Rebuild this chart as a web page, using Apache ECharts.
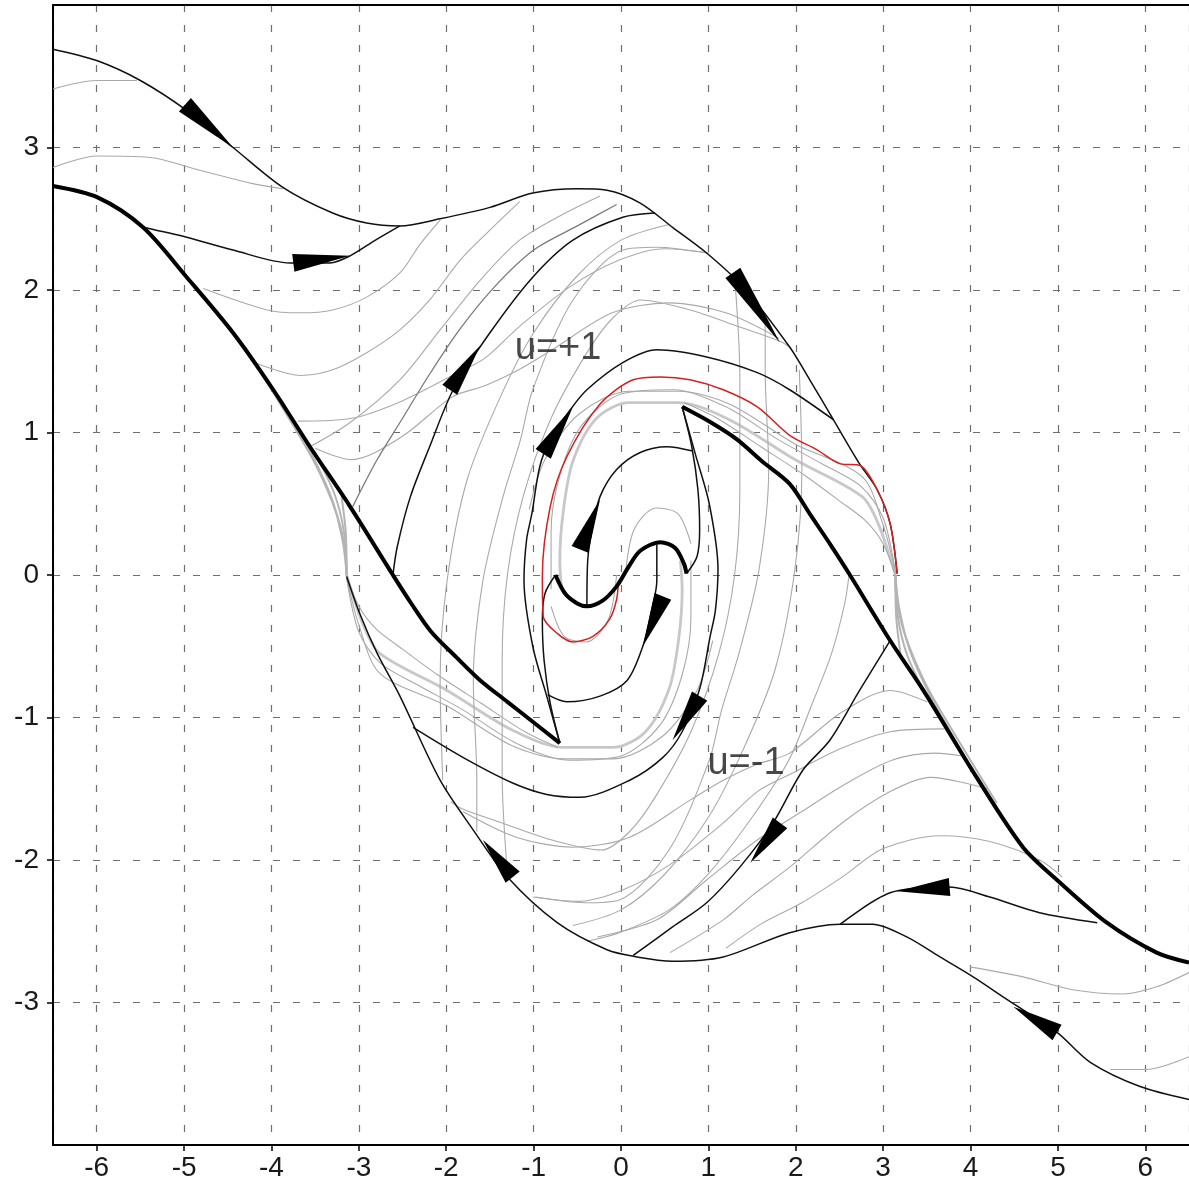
<!DOCTYPE html>
<html>
<head>
<meta charset="utf-8">
<script src="https://cdn.jsdelivr.net/npm/echarts@6/dist/echarts.min.js"></script>
<style>
  html, body { margin: 0; padding: 0; background: #fff; }
  #chart { width: 1189px; height: 1185px; }
</style>
</head>
<body>
<div id="chart"></div>
<script>
// ---- thick switching curves ----
var thickLeft = [[-6.50,2.73],[-5.99,2.65],[-5.47,2.44],[-4.97,2.09],[-4.44,1.70],[-3.98,1.30],[-3.56,0.90],[-3.10,0.48],[-2.61,0.00],[-2.40,-0.20],[-2.17,-0.40],[-1.88,-0.58],[-1.61,-0.74],[-1.30,-0.89],[-1.01,-1.03],[-0.70,-1.18]];
var thickRight = [[0.70,1.18],[1.03,1.07],[1.33,0.95],[1.61,0.80],[1.93,0.64],[2.17,0.42],[2.40,0.21],[2.62,0.00],[3.08,-0.46],[3.46,-0.81],[4.07,-1.42],[4.60,-1.91],[4.99,-2.14],[5.56,-2.44],[6.13,-2.65],[6.50,-2.72]];
var thickS = [[-0.75,0.00],[-0.64,-0.13],[-0.50,-0.20],[-0.39,-0.22],[-0.21,-0.18],[-0.05,-0.08],[0.08,0.05],[0.22,0.17],[0.45,0.23],[0.62,0.19],[0.72,0.08],[0.75,0.01]];

// ---- red trajectory ----
var redPath = [[3.16,0.01],[3.08,0.36],[2.93,0.60],[2.73,0.77],[2.51,0.78],[2.24,0.88],[1.93,0.98],[1.56,1.18],[1.17,1.30],[0.79,1.37],[0.45,1.39],[0.14,1.37],[-0.24,1.20],[-0.62,0.83],[-0.81,0.48],[-0.90,-0.01],[-0.89,-0.29],[-0.73,-0.41],[-0.55,-0.47],[-0.32,-0.43],[-0.13,-0.31],[-0.05,-0.17],[-0.03,-0.04]];

// ---- thin black trajectories ----
var outerTop = [[-6.50,3.69],[-6.00,3.61],[-5.50,3.47],[-4.97,3.26],[-4.44,3.00],[-3.87,2.72],[-3.30,2.54],[-2.91,2.47],[-2.53,2.45],[-2.07,2.50],[-1.50,2.58],[-1.01,2.68],[-0.50,2.71],[-0.16,2.70],[0.22,2.61],[0.59,2.44],[0.98,2.26],[1.40,2.02],[1.93,1.60],[2.16,1.37],[2.43,1.09],[2.73,0.78],[2.93,0.60],[3.08,0.36],[3.16,0.01]];
var outerBottom = [[-3.14,-0.01],[-2.99,-0.27],[-2.79,-0.55],[-2.53,-0.85],[-2.07,-1.44],[-1.69,-1.79],[-1.30,-2.12],[-0.73,-2.44],[-0.16,-2.63],[0.18,-2.68],[0.59,-2.71],[1.17,-2.68],[1.93,-2.51],[2.51,-2.45],[2.88,-2.45],[3.27,-2.54],[3.65,-2.68],[4.03,-2.82],[4.42,-2.98],[4.99,-3.21],[5.37,-3.42],[5.94,-3.59],[6.50,-3.68]];
var branchTop = [[-5.47,2.44],[-4.97,2.37],[-4.44,2.28],[-3.79,2.19],[-3.33,2.19],[-3.10,2.24],[-2.81,2.35],[-2.53,2.45]];
var branchBottom = [[2.51,-2.45],[3.08,-2.23],[3.76,-2.19],[4.22,-2.26],[4.79,-2.37],[5.45,-2.44]];
var riseLeft = [[-2.61,0.00],[-2.56,0.20],[-2.41,0.55],[-2.19,0.90],[-1.92,1.30],[-1.50,1.70],[-1.01,2.09],[-0.55,2.35],[0.02,2.51],[0.39,2.54]];
var fallRight = [[3.08,-0.46],[2.73,-0.81],[2.39,-1.16],[2.08,-1.37],[1.74,-1.74],[1.36,-2.05],[0.98,-2.30],[0.59,-2.47],[0.14,-2.67]];
var ringLeft = [[-0.70,-1.18],[-0.85,-0.85],[-1.01,-0.50],[-1.11,-0.04],[-1.08,0.25],[-1.02,0.43],[-0.93,0.76],[-0.81,0.95],[-0.58,1.16],[-0.39,1.30],[0.02,1.49],[0.41,1.58],[0.98,1.53],[1.56,1.42],[1.93,1.30],[2.43,1.09]];
var ringRight = [[0.70,1.18],[0.85,0.85],[1.01,0.50],[1.11,0.04],[1.08,-0.25],[1.02,-0.43],[0.90,-0.80],[0.70,-1.10],[0.48,-1.28],[0.10,-1.44],[-0.47,-1.56],[-0.85,-1.54],[-1.24,-1.46],[-1.81,-1.28],[-2.38,-1.07]];
var innerUp = [[-0.39,-0.21],[-0.38,0.11],[-0.33,0.32],[-0.24,0.55],[-0.05,0.74],[0.22,0.86],[0.53,0.90],[0.82,0.87]];
var innerDown = [[0.41,0.21],[0.41,-0.04],[0.35,-0.25],[0.25,-0.50],[0.07,-0.74],[-0.24,-0.85],[-0.62,-0.89],[-0.84,-0.84]];
var tipLinkRight = [[0.70,1.18],[0.81,0.90],[0.88,0.60],[0.90,0.32],[0.87,0.13],[0.75,0.01]];
var tipLinkLeft = [[-0.70,-1.18],[-0.81,-0.90],[-0.88,-0.60],[-0.90,-0.32],[-0.87,-0.13],[-0.75,0.00]];

// ---- grey trajectories ----
var greyEdgeTL1 = [[-6.5,3.41],[-6.0,3.47],[-5.54,3.47]];
var greyEdgeTL2 = [[-6.5,2.86],[-6.0,2.94],[-5.39,2.93],[-4.82,2.84],[-4.24,2.75],[-3.87,2.71]];
var greyEdgeBR1 = [[6.5,-3.38],[6.02,-3.47],[5.6,-3.47]];
var greyEdgeBR2 = [[6.5,-2.79],[6.13,-2.89],[5.74,-2.94],[5.17,-2.91],[4.60,-2.82],[3.99,-2.75]];
var greyFanTL1 = [[-4.78,2.01],[-4.05,1.86],[-3.67,1.84],[-3.30,1.86],[-2.91,1.95],[-2.53,2.12],[-2.30,2.32],[-2.07,2.49]];
var greyFanTL2 = [[-4.19,1.49],[-3.67,1.40],[-3.30,1.44],[-2.91,1.56],[-2.53,1.72],[-2.19,1.93],[-1.84,2.21],[-1.50,2.42],[-1.16,2.62]];
var greyFanTL3 = [[-3.56,0.90],[-3.10,1.07],[-2.53,1.37],[-2.07,1.72],[-1.61,2.07],[-1.16,2.35],[-0.70,2.52],[-0.24,2.66]];
var darkFanTL = [[-3.07,0.48],[-2.80,0.80],[-2.53,1.07],[-2.20,1.40],[-1.85,1.72],[-1.45,2.02],[-1.00,2.28],[-0.50,2.45],[-0.05,2.60]];
var greyFanBR1 = [[-1.81,-1.66],[-1.20,-1.84],[-0.55,-1.91],[0.10,-1.84],[0.79,-1.58],[1.17,-1.44],[1.55,-1.33],[1.93,-1.25],[2.51,-0.97],[3.08,-0.81],[3.50,-0.89]];
var greyFanBR2 = [[-1.01,-2.26],[-0.50,-2.29],[0.02,-2.21],[0.59,-2.02],[1.17,-1.74],[1.56,-1.52],[1.93,-1.40],[2.51,-1.22],[3.08,-1.10],[3.70,-1.08]];
var greyFanBR3 = [[-0.27,-2.54],[0.41,-2.42],[0.98,-2.14],[1.56,-1.86],[2.07,-1.66],[2.53,-1.48],[3.10,-1.30],[3.60,-1.25],[3.90,-1.27]];
var greyFanBR4 = [[0.56,-2.65],[1.17,-2.42],[1.50,-2.25],[1.93,-2.05],[2.53,-1.74],[3.08,-1.52],[3.54,-1.42],[4.19,-1.50]];
var greyFanBR5 = [[1.20,-2.62],[1.60,-2.45],[2.07,-2.30],[2.53,-2.12],[3.00,-1.92],[3.65,-1.83],[4.22,-1.87],[4.79,-2.00],[5.05,-2.12]];
var greyFanTC2 = [[-3.50,0.89],[-3.08,0.81],[-2.51,0.97],[-1.93,1.25],[-1.55,1.33],[-1.17,1.44],[-0.79,1.58],[-0.10,1.84],[0.55,1.91],[1.20,1.84],[1.81,1.66]];
var greyFanTC3 = [[-3.70,1.08],[-3.08,1.10],[-2.51,1.22],[-1.93,1.40],[-1.56,1.52],[-1.17,1.74],[-0.59,2.02],[-0.02,2.21],[0.50,2.29],[1.01,2.26]];
var greyRiseBR = [[2.61,0.00],[2.56,-0.20],[2.41,-0.55],[2.19,-0.90],[1.92,-1.30],[1.50,-1.70],[1.01,-2.09],[0.55,-2.35],[-0.02,-2.51],[-0.39,-2.57]];
var ovalL1 = [[-2.04,-1.44],[-2.07,-0.74],[-1.99,-0.04],[-1.76,0.67],[-1.38,1.25],[-1.00,1.70],[-0.50,2.10],[0.00,2.35],[0.55,2.46]];
var ovalL2 = [[-1.65,-1.80],[-1.65,-1.44],[-1.69,-0.74],[-1.58,-0.04],[-1.35,0.55],[-1.15,0.95],[-1.01,1.30],[-0.55,1.93],[0.02,2.28],[0.41,2.30],[0.98,2.26]];
var ovalL3 = [[-1.30,-2.10],[-1.36,-1.40],[-1.36,-0.60],[-1.30,0.00],[-1.12,0.55],[-0.80,1.10],[-0.40,1.55],[-0.10,1.80],[0.22,1.93],[0.79,1.86],[1.36,1.74],[1.82,1.64],[1.95,1.59]];
var ovalR1 = [[2.04,1.44],[2.07,0.74],[1.99,0.04],[1.76,-0.67],[1.38,-1.25],[1.00,-1.70],[0.50,-2.10],[0.00,-2.35],[-0.55,-2.46]];
var ovalR2 = [[1.65,1.80],[1.65,1.44],[1.69,0.74],[1.58,0.04],[1.35,-0.55],[1.15,-0.95],[1.01,-1.30],[0.55,-1.93],[-0.02,-2.28],[-0.41,-2.30],[-0.98,-2.26]];
var ovalR3 = [[1.30,2.10],[1.36,1.40],[1.36,0.60],[1.30,0.00],[1.12,-0.55],[0.80,-1.10],[0.40,-1.55],[0.10,-1.80],[-0.22,-1.93],[-0.79,-1.86],[-1.36,-1.74],[-1.82,-1.64],[-1.95,-1.59]];
var underLow = [[-3.14,-0.02],[-3.00,-0.35],[-2.76,-0.69],[-1.99,-0.92],[-1.24,-1.20],[-0.66,-1.29],[-0.09,-1.29],[0.48,-1.13],[0.87,-0.81],[1.05,-0.46]];
var overHigh = [[3.14,0.02],[3.00,0.35],[2.76,0.69],[1.99,0.92],[1.24,1.20],[0.66,1.29],[0.09,1.29],[-0.48,1.13],[-0.87,0.81],[-1.05,0.46]];
var underLow2 = [[-3.14,-0.02],[-3.00,-0.40],[-2.75,-0.62],[-2.30,-0.78],[-1.80,-0.95],[-1.20,-1.18],[-0.60,-1.30],[0.00,-1.27],[0.45,-1.05],[0.70,-0.70],[0.80,-0.30],[0.80,0.10]];
var overHigh2 = [[3.14,0.02],[3.00,0.40],[2.75,0.62],[2.30,0.78],[1.80,0.95],[1.20,1.18],[0.60,1.30],[0.00,1.27],[-0.45,1.05],[-0.70,0.70],[-0.80,0.30],[-0.80,-0.10]];
var hugLow = [[-3.14,0.00],[-3.00,-0.22],[-2.80,-0.38],[-2.50,-0.52],[-2.10,-0.70],[-1.60,-0.90],[-1.10,-1.10],[-0.72,-1.21]];
var hugHigh = [[3.14,0.00],[3.00,0.22],[2.80,0.38],[2.50,0.52],[2.10,0.70],[1.60,0.90],[1.10,1.10],[0.72,1.21]];
var centreArcUp = [[0.05,0.00],[0.15,0.32],[0.40,0.47],[0.65,0.43],[0.80,0.22]];
var centreArcDown = [[-0.05,0.00],[-0.15,-0.32],[-0.40,-0.47],[-0.65,-0.43],[-0.80,-0.22]];

// ---- light grey bundles converging on the switching curves ----
var bandLower = [[-3.14,0.00],[-2.95,-0.35],[-2.76,-0.55],[-1.99,-0.81],[-1.24,-1.09],[-0.66,-1.21],[-0.09,-1.21],[0.28,-1.10],[0.55,-0.80],[0.66,-0.45],[0.70,-0.10],[0.68,0.10]];
var bandUpper = [[3.14,0.00],[2.95,0.35],[2.76,0.55],[1.99,0.81],[1.24,1.09],[0.66,1.21],[0.09,1.21],[-0.28,1.10],[-0.55,0.80],[-0.66,0.45],[-0.70,0.10],[-0.68,-0.10]];
var bundleL1 = [[-4.30,1.60],[-3.90,1.20],[-3.50,0.78],[-3.25,0.42],[-3.15,0.15],[-3.14,0.00]];
var bundleL2 = [[-3.90,1.24],[-3.55,0.86],[-3.30,0.52],[-3.18,0.22],[-3.14,0.00]];
var bundleL3 = [[-3.50,0.85],[-3.28,0.57],[-3.17,0.30],[-3.14,0.00]];
var bundleL4 = [[-3.20,0.56],[-3.15,0.30],[-3.14,0.00]];
var bundleR1 = [[4.30,-1.60],[3.90,-1.20],[3.50,-0.78],[3.25,-0.42],[3.15,-0.15],[3.14,0.00]];
var bundleR2 = [[3.90,-1.24],[3.55,-0.86],[3.30,-0.52],[3.18,-0.22],[3.14,0.00]];
var bundleR3 = [[3.50,-0.85],[3.28,-0.57],[3.17,-0.30],[3.14,0.00]];
var bundleR4 = [[3.20,-0.56],[3.15,-0.30],[3.14,0.00]];

// ---- arrows: [xBack, yBack, xTip, yTip] ----
var arrows = [
  [-4.99,3.30,-4.44,3.00],
  [-3.75,2.19,-3.10,2.24],
  [1.28,2.12,1.82,1.63],
  [-1.96,1.30,-1.61,1.61],
  [-0.89,0.85,-0.55,1.18],
  [-0.47,0.18,-0.24,0.53],
  [0.48,-0.15,0.25,-0.50],
  [0.90,-0.85,0.59,-1.16],
  [1.82,-1.74,1.48,-2.02],
  [-1.24,-2.12,-1.58,-1.86],
  [3.76,-2.19,3.16,-2.22],
  [4.99,-3.21,4.49,-3.03]
];

// ---- text labels ----
var labelText = ['u=+1', 'u=-1'];
var labelPos = [[-0.72,1.59],[1.43,-1.32]];

var FONT = '"Liberation Sans", Arial, Helvetica, sans-serif';
var chart = echarts.init(document.getElementById('chart'), null, { renderer: 'canvas' });

function curve(data, color, width, z) {
  return {
    type: 'line', data: data, showSymbol: false, smooth: 0.3, silent: true,
    animation: false, z: z, lineStyle: { color: color, width: width }
  };
}

var series = [];
[bundleL1, bundleL2, bundleL3, bundleL4, bundleR1, bundleR2, bundleR3, bundleR4
].forEach(function (d) { series.push(curve(d, '#b4b4b4', 2, 1)); });
[bandLower, bandUpper].forEach(function (d) { series.push(curve(d, '#c8c8c8', 2.8, 1)); });
[greyEdgeTL1, greyEdgeTL2, greyEdgeBR1, greyEdgeBR2,
 greyFanTL1, greyFanTL2, greyFanTL3, greyFanBR1, greyFanBR2, greyFanBR3, greyFanBR4, greyFanBR5,
 greyFanTC2, greyFanTC3, greyRiseBR,
 ovalL1, ovalL2, ovalL3, ovalR1, ovalR2, ovalR3,
 underLow, overHigh, underLow2, overHigh2, hugLow, hugHigh, centreArcUp, centreArcDown
].forEach(function (d) { series.push(curve(d, '#a9a9a9', 1.1, 2)); });
series.push(curve(darkFanTL, '#7a7a7a', 1.3, 2));
[outerTop, outerBottom, branchTop, branchBottom, riseLeft, fallRight,
 ringLeft, ringRight, innerUp, innerDown, tipLinkRight, tipLinkLeft
].forEach(function (d) { series.push(curve(d, '#111', 1.5, 3)); });
series.push(curve(redPath, '#d42020', 1.5, 4));
[thickLeft, thickRight, thickS].forEach(function (d) { series.push(curve(d, '#000', 4, 5)); });

series.push({
  type: 'custom', silent: true, animation: false, z: 6,
  encode: { x: [0, 2], y: [1, 3] },
  data: arrows,
  renderItem: function (params, api) {
    var p0 = api.coord([api.value(0), api.value(1)]);
    var p1 = api.coord([api.value(2), api.value(3)]);
    var dx = p1[0] - p0[0], dy = p1[1] - p0[1];
    var len = Math.sqrt(dx * dx + dy * dy) || 1;
    var hw = 9;
    var nx = -dy / len * hw, ny = dx / len * hw;
    return {
      type: 'polygon',
      shape: { points: [[p0[0] + nx, p0[1] + ny], [p1[0], p1[1]], [p0[0] - nx, p0[1] - ny]] },
      style: { fill: '#000' }
    };
  }
});

series.push({
  type: 'scatter', silent: true, animation: false, z: 7, symbolSize: 0,
  data: labelPos.map(function (p, i) { return { value: p, name: labelText[i] }; }),
  label: {
    show: true, position: 'inside', formatter: '{b}',
    fontSize: 38, color: '#1a1a1a', fontFamily: FONT
  }
});

var option = {
  backgroundColor: '#fff',
  animation: false,
  grid: { left: 53, right: 0, top: 5, bottom: 40 },
  xAxis: [{
    type: 'value', min: -6.5, max: 6.5, splitNumber: 13,
    axisLine: { show: true, onZero: false, lineStyle: { color: '#000', width: 2 } },
    axisTick: { show: true, inside: false, length: 6, lineStyle: { color: '#000', width: 1.5 } },
    axisLabel: { showMinLabel: false, showMaxLabel: false, fontSize: 28, color: '#1a1a1a', margin: 9, fontFamily: FONT },
    splitLine: { show: true, lineStyle: { type: [7, 13], color: '#6e6e6e', width: 1.2 } }
  }, {
    type: 'value', position: 'top', min: -6.5, max: 6.5,
    axisLine: { show: true, onZero: false, lineStyle: { color: '#000', width: 2 } },
    axisTick: { show: false }, axisLabel: { show: false }, splitLine: { show: false }
  }],
  yAxis: {
    type: 'value', min: -4, max: 4, interval: 1,
    axisLine: { show: true, onZero: false, lineStyle: { color: '#000', width: 2 } },
    axisTick: { show: true, inside: false, length: 6, lineStyle: { color: '#000', width: 1.5 } },
    axisLabel: { showMinLabel: false, showMaxLabel: false, fontSize: 28, color: '#1a1a1a', margin: 14, fontFamily: FONT },
    splitLine: { show: true, lineStyle: { type: [7, 13], color: '#6e6e6e', width: 1.2 } }
  },
  series: series
};
chart.setOption(option);
</script>
</body>
</html>
